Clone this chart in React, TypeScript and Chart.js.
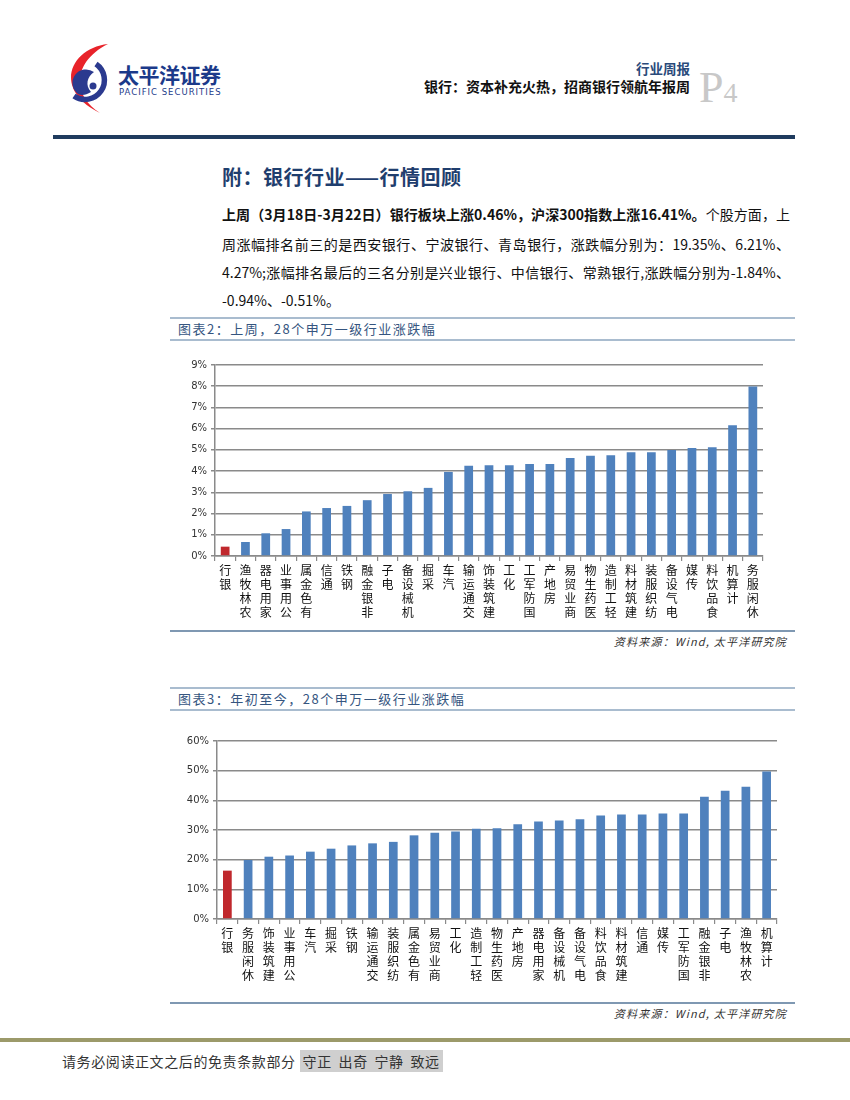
import React, { useEffect, useRef } from "react";
import { Chart, registerables } from "chart.js";

Chart.register(...registerables);

const cats1 = ["银行", "农林牧渔", "家用电器", "公用事业", "有色金属", "通信", "钢铁", "非银金融", "电子", "机械设备", "采掘", "汽车", "交通运输", "建筑装饰", "化工", "国防军工", "房地产", "商业贸易", "医药生物", "轻工制造", "建筑材料", "纺织服装", "电气设备", "传媒", "食品饮料", "计算机", "休闲服务"];
const vals1 = [0.44, 0.66, 1.07, 1.27, 2.1, 2.26, 2.36, 2.63, 2.92, 3.05, 3.21, 3.96, 4.25, 4.28, 4.28, 4.34, 4.34, 4.62, 4.72, 4.75, 4.89, 4.89, 5.0, 5.09, 5.13, 6.16, 7.99];
const yTicks1 = { min: 0, max: 9, step: 1 };

const cats2 = ["银行", "休闲服务", "建筑装饰", "公用事业", "汽车", "采掘", "钢铁", "交通运输", "纺织服装", "有色金属", "商业贸易", "化工", "轻工制造", "医药生物", "房地产", "家用电器", "机械设备", "电气设备", "食品饮料", "建筑材料", "通信", "传媒", "国防军工", "非银金融", "电子", "农林牧渔", "计算机"];
const vals2 = [16.3, 19.9, 21.0, 21.4, 22.7, 23.7, 24.8, 25.5, 26.0, 28.2, 29.1, 29.5, 30.4, 30.55, 31.9, 32.9, 33.2, 33.6, 34.9, 35.2, 35.2, 35.6, 35.6, 41.2, 43.2, 44.6, 49.7];
const yTicks2 = { min: 0, max: 60, step: 10 };

const BLUE = "#4f81bd";
const RED = "#c0282d";
const GRID = "#8a8a8a";
const CJK = '"Noto Sans CJK SC", "Noto Sans", sans-serif';

function BarChart(props: { cats: string[]; vals: number[]; ticks: { min: number; max: number; step: number }; barPct: number }) {
  const ref = useRef<HTMLCanvasElement | null>(null);
  useEffect(() => {
    if (!ref.current) return;
    const labels = props.cats.map((c) => c.split("").reverse());
    const chart = new Chart(ref.current, {
      type: "bar",
      data: {
        labels,
        datasets: [
          {
            data: props.vals,
            backgroundColor: props.cats.map((c) => (c === "银行" ? RED : BLUE)),
            barPercentage: props.barPct,
            categoryPercentage: 1,
          },
        ],
      },
      options: {
        animation: false,
        responsive: true,
        maintainAspectRatio: false,
        layout: { padding: { top: 15, right: 2, left: 0, bottom: 0 } },
        plugins: { legend: { display: false }, tooltip: { enabled: false } },
        scales: {
          x: {
            grid: { display: true, drawOnChartArea: false, drawTicks: true, tickLength: 5, color: GRID, lineWidth: 1.2, offset: true },
            border: { display: true, color: GRID, width: 1.5 },
            ticks: { autoSkip: false, maxRotation: 0, minRotation: 0, padding: 3, color: "#111", font: { family: CJK, size: 12, lineHeight: 1.15 } },
            afterFit: (s: any) => { s.height = 70; },
          },
          y: {
            min: props.ticks.min,
            max: props.ticks.max,
            grid: { color: GRID, lineWidth: 1.5, drawTicks: true, tickLength: 4 },
            border: { display: true, color: GRID, width: 1.5 },
            ticks: { stepSize: props.ticks.step, padding: 4, color: "#333", font: { family: '"DejaVu Sans", sans-serif', size: 10 }, callback: (v: any) => v + "%" },
            afterFit: (s: any) => { s.width = 40; },
          },
        },
      },
    });
    return () => chart.destroy();
  }, []);
  return <canvas ref={ref} />;
}

const abs = (l: number, t: number, extra: React.CSSProperties = {}): React.CSSProperties => ({ position: "absolute", left: l, top: t, ...extra });

function Logo() {
  return (
    <svg style={abs(56, 42)} width="62" height="72" viewBox="0 0 62 72">
      <path d="M52 2 C14 6 -4 48 44 71 C16 54 16 20 52 2 Z" fill="#e8232a" />
      <path d="M40 22 A19 19 0 1 1 18 54" fill="none" stroke="#2b3a8f" strokeWidth="5.5" />
      <path d="M22 52 A13 13 0 0 1 38 30 C31 35 29 43 35 50 C30 53 26 54 22 52 Z" fill="#2b3a8f" />
      <circle cx="37" cy="44" r="3.5" fill="#2b3a8f" />
    </svg>
  );
}

function ChartTitle(props: { top: number; text: string }) {
  return (
    <>
      <div style={abs(170, props.top, { width: 625, height: 2, background: "#a9bccf" })} />
      <div style={abs(178, props.top + 2, { fontSize: 13, lineHeight: "20px", color: "#35557f", letterSpacing: 1.5, fontFamily: CJK })}>{props.text}</div>
      <div style={abs(170, props.top + 22, { width: 625, height: 2, background: "#a9bccf" })} />
    </>
  );
}

function Source(props: { top: number }) {
  return (
    <>
      <div style={abs(170, props.top, { width: 625, height: 2, background: "#7f98b2" })} />
      <div style={abs(540, props.top + 3, { width: 247, textAlign: "right", fontSize: 11, fontStyle: "italic", color: "#333", fontFamily: CJK, lineHeight: "16px", letterSpacing: 1.2 })}>资料来源：Wind, 太平洋研究院</div>
    </>
  );
}

export default function App() {
  const para: React.CSSProperties = { width: 568, fontSize: 14, lineHeight: "20px", color: "#111", fontFamily: CJK, textAlign: "justify", textAlignLast: "justify" as any, whiteSpace: "nowrap" };
  return (
    <div style={{ position: "relative", width: 850, height: 1100, background: "#fff", fontFamily: CJK, overflow: "hidden" }}>
      <style>{`body{margin:0}`}</style>
      <Logo />
      <div style={abs(118, 61, { fontSize: 21, fontWeight: 700, color: "#1b3a8a", lineHeight: "26px", letterSpacing: -0.5 })}>太平洋证券</div>
      <div style={abs(119, 87, { fontSize: 8.5, color: "#1b3a8a", lineHeight: "11px", letterSpacing: 1.0, fontFamily: '"DejaVu Sans", sans-serif' })}>PACIFIC SECURITIES</div>

      <div style={abs(560, 58, { width: 130, textAlign: "right", fontSize: 13.5, fontWeight: 700, color: "#2a4a7a", lineHeight: "20px" })}>行业周报</div>
      <div style={abs(380, 76, { width: 310, textAlign: "right", fontSize: 14, fontWeight: 700, color: "#111", lineHeight: "20px" })}>银行：资本补充火热，招商银行领航年报周</div>
      <div style={abs(699, 66, { fontFamily: '"Liberation Serif", serif', color: "#c8c8c8", lineHeight: "44px", whiteSpace: "nowrap" })}>
        <span style={{ fontSize: 44 }}>P</span>
        <span style={{ fontSize: 28 }}>4</span>
      </div>
      <div style={abs(53, 135, { width: 742, height: 4, background: "#1f3b5e" })} />

      <div style={abs(222, 164, { fontSize: 20, lineHeight: "26px", color: "#1f3e6e", fontWeight: 700, letterSpacing: 0.5 })}>附：银行行业——行情回顾</div>

      <div style={abs(222, 204, para)}>
        <b>上周（3月18日-3月22日）银行板块上涨0.46%，沪深300指数上涨16.41%。</b>个股方面，上
      </div>
      <div style={abs(222, 234, para)}>周涨幅排名前三的是西安银行、宁波银行、青岛银行，涨跌幅分别为：19.35%、6.21%、</div>
      <div style={abs(222, 262, para)}>4.27%;涨幅排名最后的三名分别是兴业银行、中信银行、常熟银行,涨跌幅分别为-1.84%、</div>
      <div style={abs(222, 290, { ...para, textAlign: "left", textAlignLast: "left" as any })}>-0.94%、-0.51%。</div>

      <ChartTitle top={317} text="图表2：上周，28个申万一级行业涨跌幅" />
      <div style={abs(175, 350, { width: 590, height: 276 })}>
        <BarChart cats={cats1} vals={vals1} ticks={yTicks1} barPct={0.43} />
      </div>
      <Source top={630} />

      <ChartTitle top={687} text="图表3：年初至今，28个申万一级行业涨跌幅" />
      <div style={abs(177, 726, { width: 602, height: 263 })}>
        <BarChart cats={cats2} vals={vals2} ticks={yTicks2} barPct={0.42} />
      </div>
      <Source top={1002} />

      <div style={abs(0, 1038, { width: 850, height: 4, background: "#9c9a6a" })} />
      <div style={abs(62, 1051, { fontSize: 14, lineHeight: "20px", color: "#333", whiteSpace: "nowrap", letterSpacing: 0.6 })}>
        请务必阅读正文之后的免责条款部分
        <span style={{ background: "#cfcfcf", marginLeft: 4, padding: "1px 3px", wordSpacing: 3 }}>守正 出奇 宁静 致远</span>
      </div>
    </div>
  );
}
